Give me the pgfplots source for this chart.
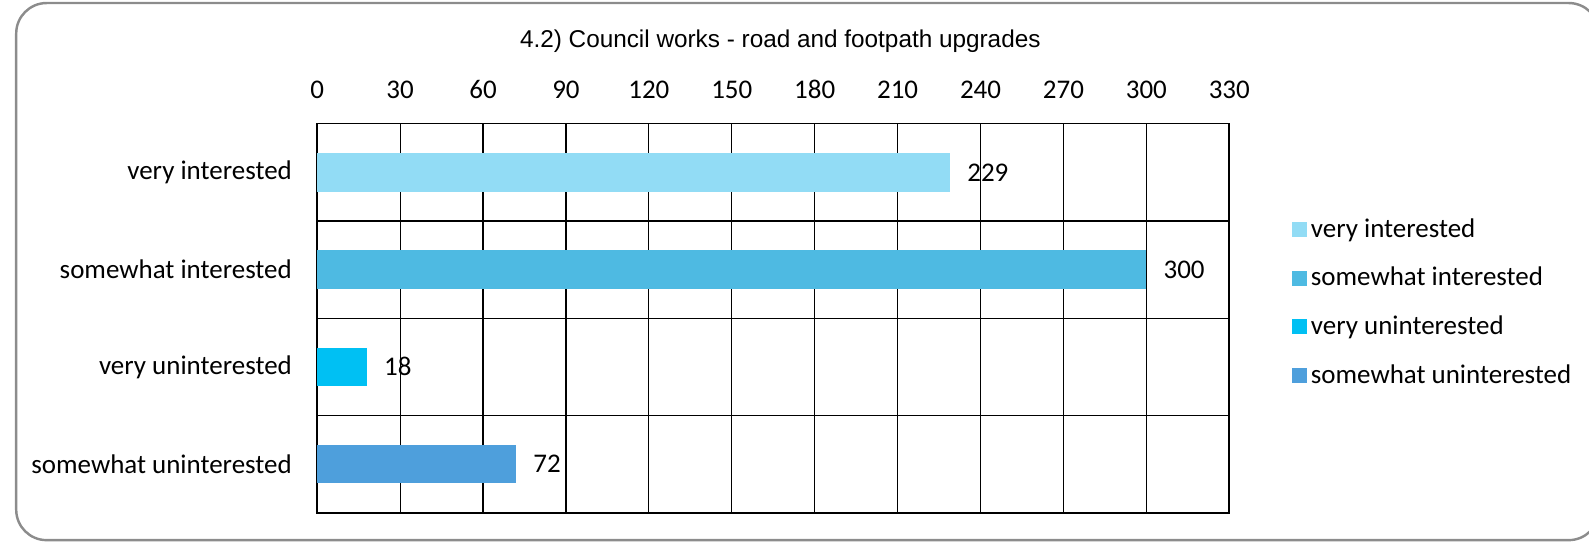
\documentclass[border=0pt]{standalone}
\usepackage{pgfplots}
\pgfplotsset{compat=1.18}
\usepackage{fontspec}
\setmainfont{Carlito}
\newfontfamily\arialfont{Liberation Sans}
\definecolor{cA}{HTML}{92DCF5}
\definecolor{cB}{HTML}{4EBAE2}
\definecolor{cC}{HTML}{00C0F3}
\definecolor{cD}{HTML}{4E9FDC}
\definecolor{frame}{HTML}{8C8C8C}
\begin{document}
\begin{tikzpicture}[x=0.5pt,y=0.5pt]
\useasboundingbox (0,0) rectangle (1568,535);
\clip (0,0) rectangle (1568,535);
\draw[frame, line width=1.2pt, rounded corners=15pt] (16,2) rectangle (1578,532);
\node[font=\arialfont\fontsize{12}{14}\selectfont] at (770,494) {4.2) Council works - road and footpath upgrades};
\coordinate (A) at (313,29);
\begin{axis}[
  at={(A)}, anchor=south west,
  scale only axis, width=450pt, height=192pt,
  xmin=0, xmax=330, ymin=-0.5, ymax=3.5,
  y dir=reverse,
  xtick={0,30,...,330},
  xticklabel pos=upper,
  ytick={0,1,2,3},
  yticklabels={very interested, somewhat interested, very uninterested, somewhat uninterested},
  minor ytick={0.5,1.5,2.5},
  xmajorgrids, yminorgrids,
  grid style={black, line width=0.6pt},
  minor grid style={black, line width=0.6pt},
  axis line style={black, line width=0.8pt},
  major tick length=0pt, minor tick length=0pt,
  tick style={draw=none},
  ticklabel style={font=\fontsize{13.3}{15}\selectfont},
  xticklabel style={yshift=9pt},
  yticklabel style={xshift=-9pt},
  /pgf/number format/assume math mode=true,
  xbar, bar width=19pt, bar shift=0pt,
  nodes near coords,
  nodes near coords style={font=\fontsize{13.3}{15}\selectfont, black, anchor=west, xshift=5pt},
  legend cell align=left,
  legend style={at={(1.068,0.767)}, anchor=north west, draw=none, fill=none,
    font=\fontsize{13.3}{15}\selectfont, row sep=9.2pt, inner sep=0pt},
  legend image code/.code={\fill[#1,draw=none] (0pt,-3.75pt) rectangle (7.5pt,3.75pt);},
]
\addplot[fill=cA, draw=none] coordinates {(229,0)};
\addlegendentry{very interested}
\addplot[fill=cB, draw=none] coordinates {(300,1)};
\addlegendentry{somewhat interested}
\addplot[fill=cC, draw=none] coordinates {(18,2)};
\addlegendentry{very uninterested}
\addplot[fill=cD, draw=none] coordinates {(72,3)};
\addlegendentry{somewhat uninterested}
\end{axis}
\end{tikzpicture}
\end{document}
